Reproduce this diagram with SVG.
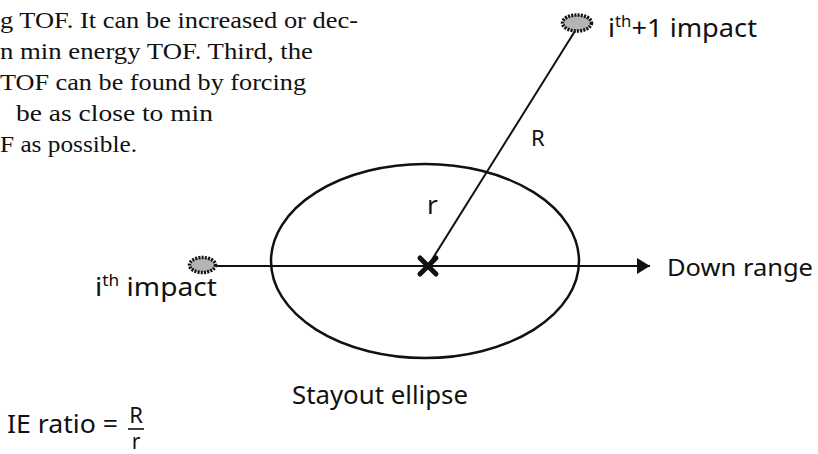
<svg xmlns="http://www.w3.org/2000/svg" width="818" height="454" viewBox="0 0 818 454">
  <style>
    .body { font-family: "Liberation Serif", "Times New Roman", serif; font-size: 23px; fill: #111; }
    .lbl { font-family: "Noto Sans", "Open Sans", sans-serif; fill: #111; }
    .line { stroke: #111; stroke-width: 2; fill: none; }
    .impact { fill: #b4b4b4; stroke: #111; stroke-width: 3.5; stroke-dasharray: 2 1.2; }
  </style>
  <defs>
    <marker id="arrow" markerWidth="14" markerHeight="16" refX="13" refY="8" orient="auto" markerUnits="userSpaceOnUse">
      <path d="M0,0 L13,8 L0,16 Z" fill="#111"/>
    </marker>
  </defs>
  <rect width="818" height="454" fill="#ffffff"/>

  <g id="paragraph" class="body">
    <text x="0" y="28" textLength="358" lengthAdjust="spacingAndGlyphs">g TOF. It can be increased or dec-</text>
    <text x="0" y="59" textLength="313" lengthAdjust="spacingAndGlyphs">n min energy TOF. Third, the</text>
    <text x="0" y="90" textLength="306" lengthAdjust="spacingAndGlyphs">TOF can be found by forcing</text>
    <text x="16" y="121" textLength="197" lengthAdjust="spacingAndGlyphs">be as close to min</text>
    <text x="0" y="152" textLength="137" lengthAdjust="spacingAndGlyphs">F as possible.</text>
  </g>

  <g id="stayout-ellipse">
    <ellipse cx="425" cy="261" rx="154" ry="97" fill="none" stroke="#111" stroke-width="2.5"/>
    <text class="lbl" x="292" y="404" font-size="25" textLength="176" lengthAdjust="spacingAndGlyphs">Stayout ellipse</text>
  </g>

  <g id="connectors">
    <line class="line" x1="217" y1="266" x2="650" y2="266" marker-end="url(#arrow)"/>
    <line class="line" x1="428" y1="266" x2="575" y2="31"/>
  </g>

  <g id="center">
    <path d="M420,258 L436,274 M436,258 L420,274" stroke="#111" stroke-width="5" stroke-linecap="round"/>
  </g>

  <g id="impact-i">
    <ellipse class="impact" cx="202.5" cy="265" rx="13" ry="7.5"/>
    <text class="lbl" x="95" y="296" font-size="26" textLength="122" lengthAdjust="spacingAndGlyphs">i<tspan font-size="16" dy="-10">th</tspan><tspan dy="10"> impact</tspan></text>
  </g>

  <g id="impact-i1">
    <ellipse class="impact" cx="577" cy="23" rx="14.5" ry="8"/>
    <text class="lbl" x="608" y="37" font-size="26" textLength="149" lengthAdjust="spacingAndGlyphs">i<tspan font-size="16" dy="-10">th</tspan><tspan dy="10">+1 impact</tspan></text>
  </g>

  <g id="labels" class="lbl">
    <text x="531" y="146" font-size="22">R</text>
    <text x="427" y="214" font-size="26">r</text>
    <text x="667" y="276" font-size="24" textLength="146" lengthAdjust="spacingAndGlyphs">Down range</text>
  </g>

  <g id="formula" class="lbl">
    <text x="7" y="433" font-size="26" textLength="111" lengthAdjust="spacingAndGlyphs">IE ratio =</text>
    <text x="136" y="423" font-size="22" text-anchor="middle">R</text>
    <line x1="128" y1="429" x2="144" y2="429" stroke="#111" stroke-width="1.6"/>
    <text x="136" y="449" font-size="21" text-anchor="middle">r</text>
  </g>
</svg>
